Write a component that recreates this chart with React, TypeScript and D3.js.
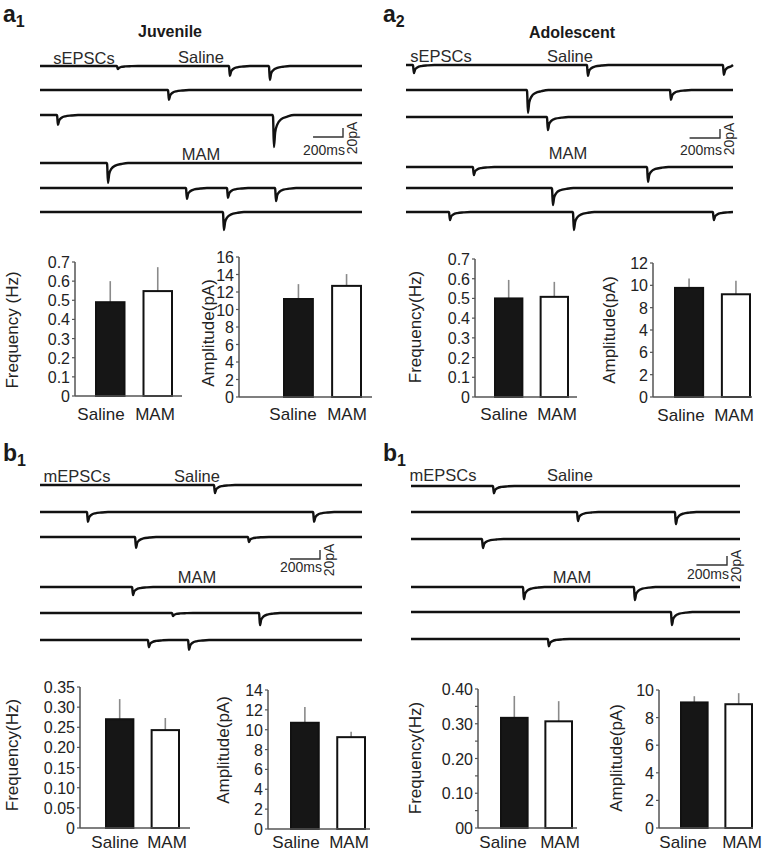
import React from "react";
import * as d3 from "d3";

// ---- bar chart data ----
const groups = ["Saline", "MAM"];

const juvSFreq = [0.49, 0.548];
const juvSFreqErr = [0.11, 0.125];
const juvSAmp = [11.2, 12.7];
const juvSAmpErr = [1.7, 1.35];

const adoSFreq = [0.5, 0.508];
const adoSFreqErr = [0.094, 0.076];
const adoSAmp = [9.77, 9.2];
const adoSAmpErr = [0.85, 1.2];

const juvMFreq = [0.27, 0.243];
const juvMFreqErr = [0.05, 0.03];
const juvMAmp = [10.7, 9.25];
const juvMAmpErr = [1.6, 0.55];

const adoMFreq = [0.317, 0.307];
const adoMFreqErr = [0.063, 0.058];
const adoMAmp = [9.1, 8.97];
const adoMAmpErr = [0.45, 0.8];

// tick values and their printed labels
const freq7Ticks = [0, 0.1, 0.2, 0.3, 0.4, 0.5, 0.6, 0.7];
const freq7Labels = ["0", "0.1", "0.2", "0.3", "0.4", "0.5", "0.6", "0.7"];
const amp16Ticks = [0, 2, 4, 6, 8, 10, 12, 14, 16];
const amp16Labels = ["0", "2", "4", "6", "8", "10", "12", "14", "16"];
const amp12Ticks = [0, 2, 4, 6, 8, 10, 12];
const amp12Labels = ["0", "2", "6", "4", "8", "10", "12"]; // as printed in the figure
const freq35Ticks = [0, 0.05, 0.1, 0.15, 0.2, 0.25, 0.3, 0.35];
const freq35Labels = ["0", "0.05", "0.10", "0.15", "0.20", "0.25", "0.30", "0.35"];
const amp14Ticks = [0, 2, 4, 6, 8, 10, 12, 14];
const amp14Labels = ["0", "2", "4", "6", "8", "10", "12", "14"];
const freq40Ticks = [0, 0.05, 0.1, 0.15, 0.2, 0.25, 0.3, 0.35, 0.4];
const freq40Labels = ["00", "", "0.10", "", "0.20", "", "0.30", "", "0.40"];
const amp10Ticks = [0, 2, 4, 6, 8, 10];
const amp10Labels = ["0", "2", "4", "6", "8", "10"];

// ---- example traces: events as [time ms, amplitude pA] per sweep ----
const sweepMs = 2150;
const juvSSaline = [[[514, 7], [1262, 22], [1529, 31]], [[855, 22]], [[114, 22], [1556, 71]]];
const juvSMam = [[[448, 44]], [[975, 24], [1249, 22], [1570, 29]], [[1222, 40]]];
const adoSSaline = [[[46, 18], [1190, 24], [2084, 22]], [[796, 51], [1736, 22]], [[927, 29]]];
const adoSMam = [[[440, 18], [1585, 33]], [[960, 38]], [[283, 18], [1098, 40], [2018, 18]]];
const juvMSaline = [[[1162, 18]], [[314, 22], [1824, 22]], [[635, 24], [1389, 11]]];
const juvMMam = [[[615, 18]], [[882, 7], [1463, 27]], [[721, 16], [989, 22]]];
const adoMSaline = [[[536, 16]], [[1085, 20], [1725, 27]], [[464, 20]]];
const adoMMam = [[[732, 27], [1457, 29]], [[1699, 29]], [[895, 16]]];

// EPSC waveform template: [ms after onset, fraction of peak]
const eventShape = [[-3, 0], [0, 0.05], [6, 1], [14, 0.55], [28, 0.3], [55, 0.13], [95, 0.05], [140, 0]];

const font = "'Liberation Sans', Arial, Helvetica, sans-serif";
const ink = "#1a1a1a";

type Panel = {
  letter: string; sub: string; lx: number; ly: number;
  title?: string; titleX?: number; titleY?: number;
  kind: string; kindX: number; kindY: number;
  salX: number; salY: number; mamX: number; mamY: number;
  x0: number; x1: number; rows: number[];
  barX: number; barY: number; msY: number;
  saline: number[][][]; mam: number[][][];
};

const panels: Panel[] = [
  { letter: "a", sub: "1", lx: 3, ly: 22, title: "Juvenile", titleX: 170, titleY: 37,
    kind: "sEPSCs", kindX: 84, kindY: 64, salX: 201, salY: 63, mamX: 201, mamY: 160,
    x0: 40, x1: 362, rows: [66, 90, 115, 163, 188, 212],
    barX: 343, barY: 137, msY: 155, saline: juvSSaline, mam: juvSMam },
  { letter: "a", sub: "2", lx: 383, ly: 22, title: "Adolescent", titleX: 572, titleY: 38,
    kind: "sEPSCs", kindX: 441, kindY: 62, salX: 570, salY: 62, mamX: 568, mamY: 159,
    x0: 406, x1: 733, rows: [65, 90, 117, 167, 188, 212],
    barX: 720, barY: 138, msY: 155, saline: adoSSaline, mam: adoSMam },
  { letter: "b", sub: "1", lx: 3, ly: 461,
    kind: "mEPSCs", kindX: 77, kindY: 482, salX: 197, salY: 482, mamX: 197, mamY: 583,
    x0: 40, x1: 362, rows: [485, 512, 537, 587, 613, 640],
    barX: 320, barY: 559, msY: 572, saline: juvMSaline, mam: juvMMam },
  { letter: "b", sub: "1", lx: 383, ly: 461,
    kind: "mEPSCs", kindX: 443, kindY: 481, salX: 570, salY: 481, mamX: 572, mamY: 583,
    x0: 411, x1: 740, rows: [486, 512, 539, 587, 612, 639],
    barX: 727, barY: 565, msY: 579, saline: adoMSaline, mam: adoMMam },
];

type Chart = {
  values: number[]; errs: number[]; max: number; ticks: number[]; labels: string[];
  left: number; right: number; barL: number; barR: number; top: number; bottom: number;
  ylabel: string; ylx: number; yly: number; xly: number; xlx: number[];
};

const charts: Chart[] = [
  { values: juvSFreq, errs: juvSFreqErr, max: 0.7, ticks: freq7Ticks, labels: freq7Labels,
    left: 75, right: 182, barL: 96, barR: 172, top: 262, bottom: 396,
    ylabel: "Frequency (Hz)", ylx: 18, yly: 330, xly: 420, xlx: [101, 155] },
  { values: juvSAmp, errs: juvSAmpErr, max: 16, ticks: amp16Ticks, labels: amp16Labels,
    left: 239, right: 372, barL: 284, barR: 361, top: 257, bottom: 397,
    ylabel: "Amplitude(pA)", ylx: 214, yly: 333, xly: 420, xlx: [293, 347] },
  { values: adoSFreq, errs: adoSFreqErr, max: 0.7, ticks: freq7Ticks, labels: freq7Labels,
    left: 475, right: 577, barL: 495, barR: 568, top: 259, bottom: 397,
    ylabel: "Frequency(Hz)", ylx: 421, yly: 327, xly: 420, xlx: [504, 557] },
  { values: adoSAmp, errs: adoSAmpErr, max: 12, ticks: amp12Ticks, labels: amp12Labels,
    left: 653, right: 752, barL: 675, barR: 750, top: 263, bottom: 397,
    ylabel: "Amplitude(pA)", ylx: 615, yly: 330, xly: 421, xlx: [681, 734] },
  { values: juvMFreq, errs: juvMFreqErr, max: 0.35, ticks: freq35Ticks, labels: freq35Labels,
    left: 80, right: 190, barL: 106, barR: 179, top: 687, bottom: 828,
    ylabel: "Frequency(Hz)", ylx: 18, yly: 755, xly: 848, xlx: [115, 167] },
  { values: juvMAmp, errs: juvMAmpErr, max: 14, ticks: amp14Ticks, labels: amp14Labels,
    left: 268, right: 370, barL: 291, barR: 365, top: 690, bottom: 829,
    ylabel: "Amplitude(pA)", ylx: 229, yly: 750, xly: 848, xlx: [296, 349] },
  { values: adoMFreq, errs: adoMFreqErr, max: 0.4, ticks: freq40Ticks, labels: freq40Labels,
    left: 478, right: 577, barL: 501, barR: 572, top: 689, bottom: 828,
    ylabel: "Frequency(Hz)", ylx: 421, yly: 758, xly: 848, xlx: [503, 560] },
  { values: adoMAmp, errs: adoMAmpErr, max: 10, ticks: amp10Ticks, labels: amp10Labels,
    left: 659, right: 753, barL: 681, barR: 752, top: 690, bottom: 828,
    ylabel: "Amplitude(pA)", ylx: 622, yly: 758, xly: 848, xlx: [683, 742] },
];

function sweepPoints(events: number[][]) {
  const pts: [number, number][] = [[0, 0]];
  events.forEach(([t, a]) => {
    eventShape.forEach(([dt, f]) => {
      const tt = t + dt;
      if (tt > 0 && tt < sweepMs) pts.push([tt, a * f]);
    });
  });
  pts.push([sweepMs, 0]);
  return pts.sort((p, q) => p[0] - q[0]);
}

function TracePanel({ p }: { p: Panel }) {
  const x = d3.scaleLinear().domain([0, sweepMs]).range([p.x0, p.x1]);
  const amp = d3.scaleLinear().domain([0, 20]).range([0, 9]);
  const sweeps = [...p.saline, ...p.mam];
  return (
    <g>
      <text x={p.lx} y={p.ly} fontFamily={font} fontWeight="bold" fontSize={23} fill={ink}>
        {p.letter}
        <tspan fontSize={16} dy={5}>{p.sub}</tspan>
      </text>
      {p.title && (
        <text x={p.titleX} y={p.titleY} textAnchor="middle" fontFamily={font} fontWeight="bold" fontSize={16} fill={ink}>
          {p.title}
        </text>
      )}
      <g fontFamily={font} fontSize={16.5} fill="#2a2a2a" textAnchor="middle">
        <text x={p.kindX} y={p.kindY}>{p.kind}</text>
        <text x={p.salX} y={p.salY}>Saline</text>
        <text x={p.mamX} y={p.mamY}>MAM</text>
      </g>
      {sweeps.map((ev, i) => {
        const base = p.rows[i];
        const line = d3.line<[number, number]>()
          .x((d) => x(d[0]))
          .y((d) => base + amp(d[1]))
          .curve(d3.curveMonotoneX);
        return (
          <path key={i} d={line(sweepPoints(ev)) || ""} fill="none" stroke="#111"
            strokeWidth={2.4} strokeLinejoin="round" />
        );
      })}
      {/* scale bar: 200 ms x 20 pA */}
      <path
        d={`M${p.barX - (x(200) - x(0))},${p.barY}H${p.barX}V${p.barY - amp(20)}`}
        fill="none" stroke="#333" strokeWidth={1.4} />
      <text x={p.barX + 2} y={p.msY} textAnchor="end" fontFamily={font} fontSize={14} fill="#2a2a2a">200ms</text>
      <text transform={`translate(${p.barX + 14},${p.barY + 1}) rotate(-90)`} textAnchor="middle"
        fontFamily={font} fontSize={14} fill="#2a2a2a">20pA</text>
    </g>
  );
}

function BarChart({ c }: { c: Chart }) {
  const y = d3.scaleLinear().domain([0, c.max]).range([c.bottom, c.top]);
  const x = d3.scaleBand().domain(groups).range([c.barL, c.barR]).paddingInner(0.4);
  return (
    <g fontFamily={font}>
      {groups.map((g, i) => {
        const cx = (x(g) || 0) + x.bandwidth() / 2;
        return (
          <g key={g}>
            <line x1={cx} x2={cx} y1={y(c.values[i])} y2={y(c.values[i] + c.errs[i])} stroke="#8a8a8a" strokeWidth={1.6} />
            <rect x={x(g)} y={y(c.values[i])} width={x.bandwidth()} height={c.bottom - y(c.values[i])}
              fill={i === 0 ? "#161616" : "#fff"} stroke="#111" strokeWidth={2} />
            <text x={c.xlx[i]} y={c.xly} textAnchor="middle" fontSize={17} fill="#222">{g}</text>
          </g>
        );
      })}
      <line x1={c.left} x2={c.left} y1={c.bottom} y2={c.top} stroke="#555" strokeWidth={1.5} />
      <line x1={c.left} x2={c.right} y1={c.bottom} y2={c.bottom} stroke="#555" strokeWidth={1.5} />
      {c.ticks.map((t, i) => (
        <g key={i}>
          <line x1={c.left - 3} x2={c.left} y1={y(t)} y2={y(t)} stroke="#555" strokeWidth={1.2} />
          <text x={c.left - 5} y={y(t) + 6} textAnchor="end" fontSize={16} fill="#222">{c.labels[i]}</text>
        </g>
      ))}
      <text transform={`translate(${c.ylx},${c.yly}) rotate(-90)`} textAnchor="middle" fontSize={17} fill="#222">
        {c.ylabel}
      </text>
    </g>
  );
}

export default function App() {
  return (
    <svg width={765} height={853} style={{ position: "absolute", left: 0, top: 0, background: "#fff" }}>
      <rect width={765} height={853} fill="#fff" />
      {panels.map((p, i) => <TracePanel key={i} p={p} />)}
      {charts.map((c, i) => <BarChart key={i} c={c} />)}
    </svg>
  );
}
